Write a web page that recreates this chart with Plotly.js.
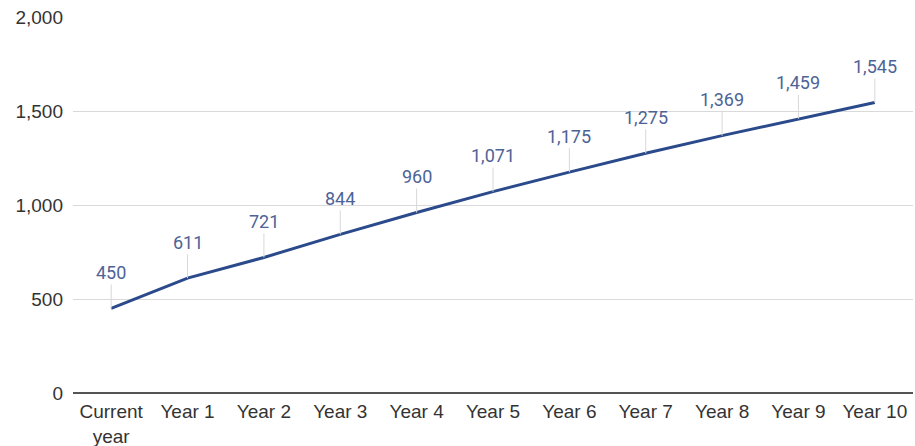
<!DOCTYPE html>
<html>
<head>
<meta charset="utf-8">
<script src="https://cdn.plot.ly/plotly-3.0.1.min.js"></script>
<style>html,body{margin:0;padding:0;background:#fff;}#chart{width:915px;height:446px;}</style>
</head>
<body>
<div id="chart"></div>
<script>
const categories = ["Current<br>year", "Year 1", "Year 2", "Year 3", "Year 4", "Year 5", "Year 6", "Year 7", "Year 8", "Year 9", "Year 10"];
const values = [450, 611, 721, 844, 960, 1071, 1175, 1275, 1369, 1459, 1545];
const yTicks = [0, 500, 1000, 1500, 2000];

const trace = {
  x: categories,
  y: values,
  type: 'scatter',
  mode: 'lines',
  line: {color: '#2b4a8b', width: 3},
  hoverinfo: 'skip'
};

const annotations = values.map((v, i) => ({
  x: categories[i],
  y: v,
  xref: 'x',
  yref: 'y',
  text: v.toLocaleString('en-US'),
  showarrow: true,
  arrowhead: 0,
  arrowwidth: 1,
  arrowcolor: '#d8d8d8',
  ax: 0,
  ay: -36,
  standoff: 0,
  font: {family: 'Roboto, sans-serif', size: 18, color: '#4d6396'}
}));

const tickFont = {family: '"Liberation Sans", Arial, sans-serif', size: 19, color: '#333333'};

const layout = {
  width: 915,
  height: 446,
  margin: {l: 73, r: 2, t: 17, b: 53},
  paper_bgcolor: '#ffffff',
  plot_bgcolor: '#ffffff',
  showlegend: false,
  font: tickFont,
  xaxis: {
    type: 'category',
    range: [-0.5, 10.5],
    showgrid: false,
    zeroline: false,
    showline: false,
    ticks: '',
    ticklabelstandoff: 5,
    tickfont: tickFont,
    fixedrange: true
  },
  yaxis: {
    range: [0, 2000],
    tickvals: yTicks,
    ticktext: yTicks.map(v => v.toLocaleString('en-US')),
    showgrid: true,
    gridcolor: '#d9d9d9',
    gridwidth: 1,
    zeroline: true,
    zerolinecolor: '#555555',
    zerolinewidth: 2,
    showline: false,
    ticks: '',
    ticklabelstandoff: 9,
    tickfont: tickFont,
    fixedrange: true
  },
  annotations: annotations
};

Plotly.newPlot('chart', [trace], layout, {displayModeBar: false, staticPlot: true});
</script>
</body>
</html>
